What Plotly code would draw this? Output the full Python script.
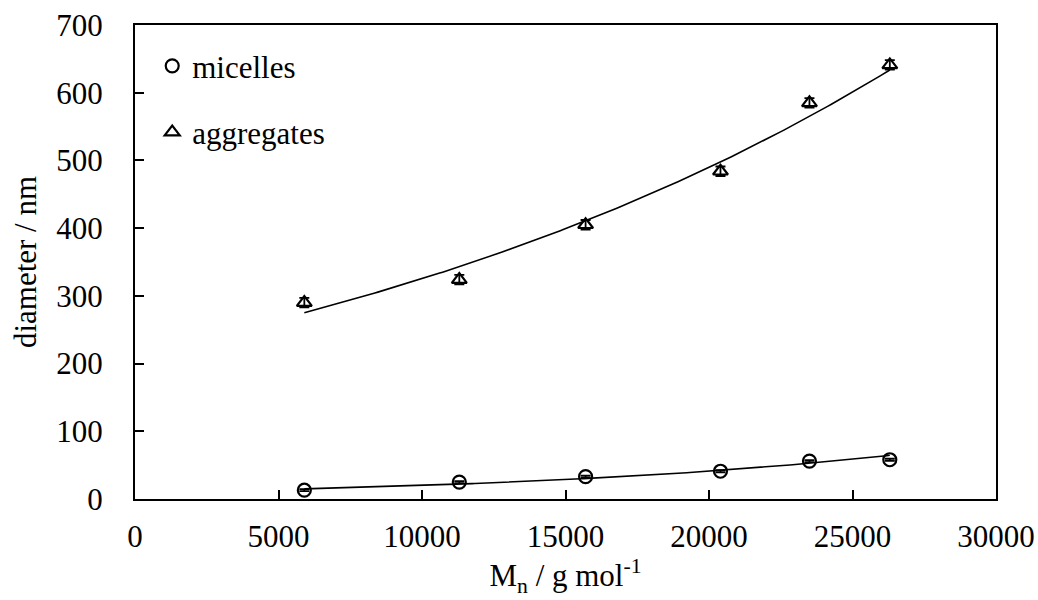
import numpy as np
import plotly.graph_objects as go

# Data
mn = [5900, 11300, 15700, 20400, 23500, 26300]
micelles = [13, 25, 33, 41, 56, 58]
micelles_err = [1.5, 1.5, 1.5, 1.5, 1.5, 1.5]
aggregates = [290, 324, 405, 484, 585, 641]
aggregates_err = [7, 7, 7, 7, 7, 7]

x_ticks = [0, 5000, 10000, 15000, 20000, 25000, 30000]
y_ticks = [0, 100, 200, 300, 400, 500, 600, 700]


def exp_trend(x, y):
    x = np.asarray(x, float)
    b, ln_a = np.polyfit(x, np.log(np.asarray(y, float)), 1)
    xs = np.linspace(x.min(), x.max(), 200)
    return xs, np.exp(ln_a) * np.exp(b * xs)


FONT = "Liberation Serif"
TXT = dict(family=FONT, size=31, color="black")
fig = go.Figure()

for ys in (micelles, aggregates):
    tx, ty = exp_trend(mn, ys)
    fig.add_trace(go.Scatter(x=tx, y=ty, mode="lines", showlegend=False,
                             line=dict(color="black", width=1.6), hoverinfo="skip"))

fig.add_trace(go.Scatter(
    x=mn, y=micelles, mode="markers", name="micelles", legendgroup="m",
    marker=dict(symbol="circle-open", size=13, color="black", line=dict(width=2.2)),
    error_y=dict(type="data", array=micelles_err, color="black", thickness=1.8, width=5),
))
fig.add_trace(go.Scatter(
    x=mn, y=aggregates, mode="markers", name="aggregates", legendgroup="a",
    marker=dict(symbol="triangle-up-open", size=13, color="black", line=dict(width=2.2)),
    error_y=dict(type="data", array=aggregates_err, color="black", thickness=1.8, width=5),
))

axis_common = dict(
    showgrid=False, zeroline=False, showline=True, linecolor="black", linewidth=2,
    mirror=True, ticks="inside", ticklen=9, tickwidth=2, tickcolor="black",
    tickfont=TXT, automargin=False,
)

fig.update_xaxes(range=[0, 30000], tickvals=x_ticks, ticktext=[str(v) for v in x_ticks],
                 ticklabelstandoff=9,
                 title=dict(text="M<sub>n</sub> / g mol<sup>-1</sup>", font=TXT, standoff=2),
                 **axis_common)
fig.update_yaxes(range=[0, 700], tickvals=y_ticks, ticktext=[str(v) for v in y_ticks],
                 ticklabelstandoff=24,
                 title=dict(text="diameter / nm", font=TXT, standoff=10),
                 **axis_common)

fig.update_layout(
    width=1038, height=600,
    margin=dict(l=135, r=42, t=25, b=101),
    paper_bgcolor="white", plot_bgcolor="white",
    font=TXT,
    legend=dict(x=0.02, y=0.97, xanchor="left", yanchor="top",
                bgcolor="rgba(0,0,0,0)", tracegroupgap=23,
                font=TXT, itemwidth=30),
    showlegend=True,
)

fig.write_html("out.html")
